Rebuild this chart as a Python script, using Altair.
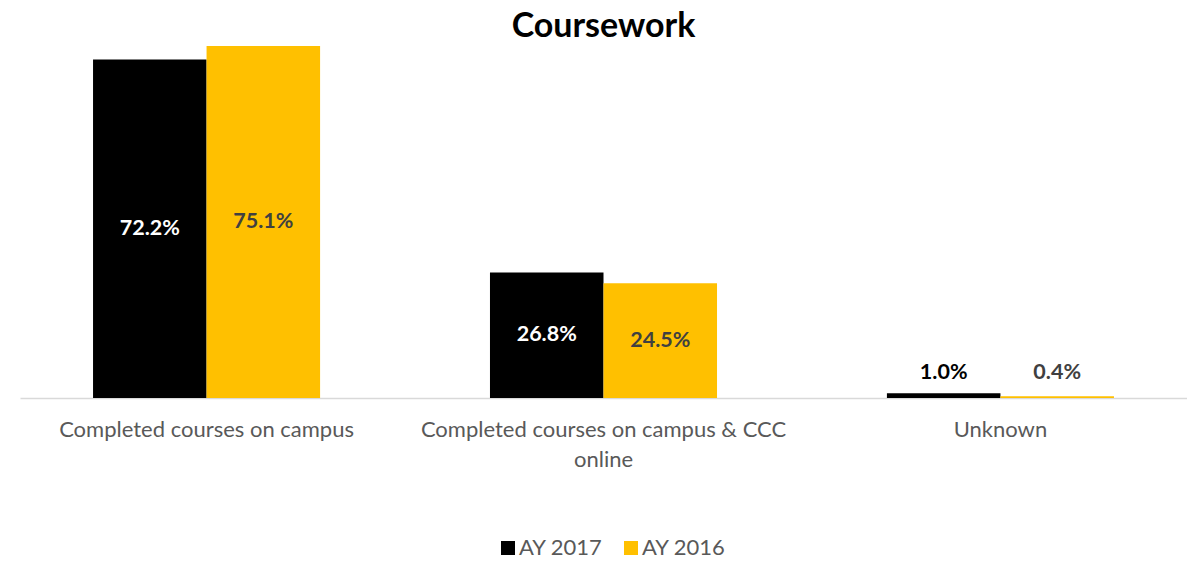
import altair as alt
import pandas as pd

categories = ["Completed courses on campus", "Completed courses on campus & CCC online", "Unknown"]
series = ["AY 2017", "AY 2016"]
ay2017 = [72.2, 26.8, 1.0]
ay2016 = [75.1, 24.5, 0.4]
colors = ["#000000", "#FFC000"]

rows = []
for c, a, b in zip(categories, ay2017, ay2016):
    rows.append({"category": c, "series": "AY 2017", "value": a})
    rows.append({"category": c, "series": "AY 2016", "value": b})
df = pd.DataFrame(rows)

FONT = "Lato"

x = alt.X(
    "category:N",
    sort=categories,
    scale=alt.Scale(paddingInner=0.428, paddingOuter=0.184),
    axis=alt.Axis(
        title=None,
        labelAngle=0,
        ticks=False,
        domainColor="#D9D9D9",
        domainWidth=1.5,
        labelFontSize=22,
        labelFont=FONT,
        labelColor="#595959",
        labelPadding=21,
        labelLimit=600,
        labelLineHeight=30,
        labelExpr="datum.label == 'Completed courses on campus & CCC online' ? ['Completed courses on campus & CCC', 'online'] : datum.label",
    ),
)
xoff = alt.XOffset("series:N", sort=series)
y_scale = alt.Scale(domain=[0, 80], nice=False)

base = alt.Chart(df)

bars = base.mark_bar().encode(
    x=x,
    xOffset=xoff,
    y=alt.Y("value:Q", scale=y_scale, axis=None),
    color=alt.Color(
        "series:N",
        sort=series,
        scale=alt.Scale(domain=series, range=colors),
        legend=alt.Legend(
            title=None,
            orient="none",
            direction="horizontal",
            legendX=477,
            legendY=514,
            symbolType="square",
            symbolSize=196,
            symbolStrokeWidth=0,
            labelFontSize=22,
            labelFont=FONT,
            labelColor="#595959",
            columnPadding=17,
            labelOffset=0,
        ),
    ),
)

labels = base.transform_calculate(
    ly="max(datum.value / 2, 5.3)",
    lbl="format(datum.value, '.1f') + '%'",
    tcolor="datum.series == 'AY 2017' ? (datum.value < 5 ? '#000000' : '#FFFFFF') : '#404040'",
).mark_text(fontSize=21.5, fontWeight="bold", font=FONT, baseline="middle").encode(
    x=x,
    xOffset=xoff,
    y=alt.Y("ly:Q", scale=y_scale, axis=None),
    text="lbl:N",
    color=alt.Color("tcolor:N", scale=None),
)

chart = alt.layer(bars, labels).properties(
    width=1167,
    height=375,
    title=alt.TitleParams(
        "Coursework", fontSize=34, font=FONT, fontWeight="bold", color="#000000", offset=-21, anchor="middle"
    ),
    padding={"left": 12, "top": 15, "right": 0, "bottom": 162},
    autosize="none",
).configure_view(stroke=None)

chart.save("out.html", embed_options={"renderer": "svg", "actions": False})
